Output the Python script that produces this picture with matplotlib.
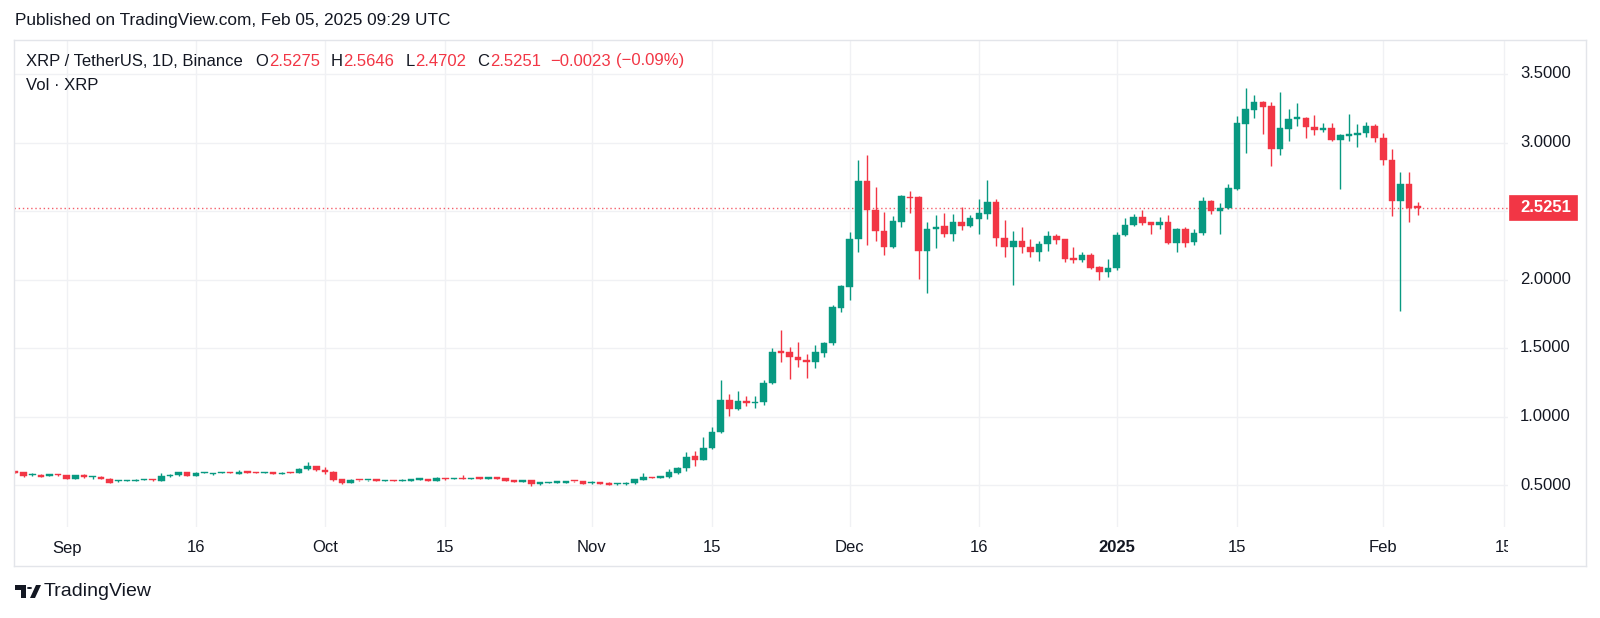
import matplotlib
matplotlib.use("Agg")
import matplotlib.pyplot as plt
import matplotlib.dates as mdates
import numpy as np
import pandas as pd
from matplotlib.patches import Rectangle, Polygon, Circle
from matplotlib.lines import Line2D

# ---------------- data ----------------
start_date = "2024-08-26"
opens = [0.600, 0.592, 0.570, 0.573, 0.568, 0.574,
         0.570, 0.546, 0.573, 0.558, 0.561, 0.546, 0.526, 0.531, 0.531, 0.537, 0.541, 0.532, 0.563, 0.570, 0.595,
         0.566, 0.588, 0.580, 0.588, 0.592, 0.582, 0.597, 0.592, 0.588, 0.590, 0.580, 0.592, 0.590, 0.614, 0.638,
         0.612, 0.598, 0.541, 0.517, 0.536, 0.533, 0.537, 0.530, 0.533, 0.530, 0.531, 0.539, 0.541, 0.531, 0.548,
         0.545, 0.549, 0.545, 0.549, 0.546, 0.549, 0.548, 0.533, 0.524, 0.534, 0.505, 0.516, 0.517, 0.517, 0.529,
         0.527, 0.511, 0.514, 0.517, 0.505, 0.505, 0.512, 0.536, 0.556, 0.552, 0.560, 0.590, 0.622, 0.712, 0.683,
         0.768, 0.884, 1.120, 1.055, 1.116, 1.098, 1.103, 1.242, 1.472, 1.473, 1.432, 1.412, 1.395, 1.466, 1.534,
         1.795, 1.948, 2.293, 2.719, 2.507, 2.357, 2.240, 2.422, 2.605, 2.602, 2.208, 2.367, 2.391, 2.332, 2.420,
         2.393, 2.444, 2.480, 2.568, 2.305, 2.235, 2.281, 2.235, 2.203, 2.257, 2.320, 2.293, 2.155, 2.143, 2.179,
         2.089, 2.055, 2.081, 2.325, 2.398, 2.454, 2.417, 2.398, 2.417, 2.269, 2.369, 2.271, 2.337, 2.573, 2.503,
         2.524, 2.661, 3.135, 3.240, 3.293, 3.266, 2.953, 3.098, 3.174, 3.181, 3.116, 3.094, 3.103, 3.018, 3.050,
         3.052, 3.067, 3.123, 3.030, 2.872, 2.575, 2.697, 2.5275]
highs = [0.605, 0.598, 0.585, 0.578, 0.578, 0.578,
         0.573, 0.573, 0.578, 0.568, 0.563, 0.548, 0.534, 0.538, 0.541, 0.543, 0.543, 0.590, 0.578, 0.597, 0.597,
         0.592, 0.595, 0.588, 0.595, 0.595, 0.609, 0.600, 0.595, 0.595, 0.592, 0.595, 0.595, 0.621, 0.668, 0.641,
         0.628, 0.600, 0.543, 0.541, 0.539, 0.539, 0.546, 0.536, 0.536, 0.546, 0.544, 0.545, 0.543, 0.555, 0.553,
         0.552, 0.570, 0.553, 0.551, 0.552, 0.561, 0.550, 0.536, 0.535, 0.536, 0.521, 0.522, 0.523, 0.531, 0.530,
         0.529, 0.527, 0.516, 0.519, 0.512, 0.519, 0.546, 0.585, 0.558, 0.566, 0.617, 0.635, 0.743, 0.751, 0.853,
         0.926, 1.266, 1.162, 1.189, 1.150, 1.150, 1.266, 1.498, 1.631, 1.510, 1.541, 1.456, 1.522, 1.545, 1.811,
         1.960, 2.349, 2.872, 2.909, 2.678, 2.490, 2.464, 2.617, 2.646, 2.610, 2.422, 2.471, 2.483, 2.478, 2.532,
         2.471, 2.588, 2.726, 2.588, 2.434, 2.357, 2.386, 2.296, 2.281, 2.354, 2.332, 2.296, 2.235, 2.203, 2.191,
         2.096, 2.147, 2.349, 2.447, 2.478, 2.507, 2.420, 2.454, 2.471, 2.374, 2.386, 2.369, 2.604, 2.580, 2.556,
         2.697, 3.193, 3.395, 3.347, 3.300, 3.293, 3.369, 3.245, 3.286, 3.189, 3.201, 3.140, 3.140, 3.060, 3.208,
         3.133, 3.152, 3.135, 3.067, 2.953, 2.782, 2.782, 2.5646]
lows = [0.585, 0.560, 0.565, 0.556, 0.563, 0.566,
        0.542, 0.542, 0.553, 0.541, 0.544, 0.512, 0.524, 0.527, 0.528, 0.534, 0.532, 0.529, 0.560, 0.568, 0.563,
        0.563, 0.585, 0.570, 0.585, 0.585, 0.580, 0.587, 0.585, 0.585, 0.580, 0.578, 0.585, 0.588, 0.612, 0.604,
        0.578, 0.530, 0.510, 0.514, 0.530, 0.531, 0.527, 0.527, 0.526, 0.527, 0.529, 0.536, 0.528, 0.529, 0.536,
        0.541, 0.541, 0.542, 0.543, 0.543, 0.542, 0.528, 0.519, 0.522, 0.490, 0.502, 0.513, 0.514, 0.515, 0.523,
        0.507, 0.508, 0.507, 0.498, 0.503, 0.502, 0.508, 0.533, 0.548, 0.548, 0.553, 0.583, 0.605, 0.641, 0.680,
        0.765, 0.880, 1.004, 1.050, 1.077, 1.060, 1.082, 1.240, 1.400, 1.274, 1.359, 1.284, 1.354, 1.432, 1.520,
        1.765, 1.850, 2.203, 2.252, 2.281, 2.179, 2.228, 2.386, 2.488, 2.001, 1.904, 2.232, 2.313, 2.281, 2.361,
        2.386, 2.332, 2.444, 2.247, 2.162, 1.960, 2.191, 2.162, 2.135, 2.210, 2.259, 2.130, 2.118, 2.130, 2.074,
        1.996, 2.021, 2.070, 2.320, 2.390, 2.398, 2.332, 2.369, 2.259, 2.198, 2.235, 2.252, 2.325, 2.478, 2.332,
        2.514, 2.650, 2.926, 3.176, 3.060, 2.829, 2.909, 3.013, 3.120, 3.035, 3.055, 3.079, 3.011, 2.660, 3.011,
        2.970, 3.043, 3.001, 2.836, 2.466, 1.770, 2.422, 2.4702]
closes = [0.590, 0.568, 0.578, 0.561, 0.573, 0.570,
          0.546, 0.570, 0.556, 0.563, 0.546, 0.517, 0.532, 0.536, 0.539, 0.540, 0.537, 0.563, 0.575, 0.595, 0.566,
          0.590, 0.592, 0.585, 0.593, 0.588, 0.597, 0.590, 0.588, 0.592, 0.583, 0.590, 0.588, 0.619, 0.638, 0.607,
          0.592, 0.534, 0.517, 0.539, 0.533, 0.536, 0.532, 0.533, 0.529, 0.535, 0.541, 0.542, 0.531, 0.551, 0.545,
          0.549, 0.545, 0.549, 0.546, 0.549, 0.546, 0.531, 0.524, 0.533, 0.505, 0.519, 0.520, 0.520, 0.529, 0.526,
          0.510, 0.515, 0.510, 0.503, 0.510, 0.517, 0.544, 0.556, 0.552, 0.563, 0.592, 0.625, 0.702, 0.683, 0.773,
          0.889, 1.120, 1.055, 1.113, 1.096, 1.105, 1.247, 1.473, 1.466, 1.432, 1.410, 1.395, 1.473, 1.539, 1.797,
          1.953, 2.293, 2.719, 2.507, 2.354, 2.240, 2.427, 2.609, 2.597, 2.208, 2.369, 2.386, 2.332, 2.420, 2.393,
          2.449, 2.483, 2.568, 2.305, 2.235, 2.281, 2.235, 2.203, 2.259, 2.320, 2.288, 2.150, 2.145, 2.179, 2.086,
          2.055, 2.081, 2.325, 2.398, 2.454, 2.415, 2.398, 2.417, 2.269, 2.369, 2.269, 2.342, 2.573, 2.503, 2.524,
          2.666, 3.140, 3.245, 3.293, 3.262, 2.953, 3.103, 3.174, 3.177, 3.116, 3.091, 3.101, 3.018, 3.055, 3.052,
          3.072, 3.123, 3.030, 2.872, 2.575, 2.697, 2.524, 2.5251]

price_ticks = [0.5, 1.0, 1.5, 2.0, 2.5, 3.0, 3.5]
time_tick_dates = ["2024-09-01", "2024-09-16", "2024-10-01", "2024-10-15", "2024-11-01", "2024-11-15",
                   "2024-12-01", "2024-12-16", "2025-01-01", "2025-01-15", "2025-02-01", "2025-02-15"]
time_tick_labels = ["Sep", "16", "Oct", "15", "Nov", "15", "Dec", "16", "2025", "15", "Feb", "15"]
last_price = 2.5251
header = "Published on TradingView.com, Feb 05, 2025 09:29 UTC"
symbol_text = "XRP / TetherUS, 1D, Binance"
ohlc_labels = ["O", "H", "L", "C"]
ohlc_values = ["2.5275", "2.5646", "2.4702", "2.5251"]
change_text = ["\u22120.0023", "(\u22120.09%)"]
vol_text = "Vol \u00b7 XRP"

# ---------------- style ----------------
FONT = ["Liberation Sans", "DejaVu Sans"]
plt.rcParams['font.family'] = FONT
GREEN = "#089981"
RED = "#F23645"
TXT = "#131722"
GRID = "#f0f1f4"
BORDER = "#e3e5ea"

W, H = 1600, 618
fig = plt.figure(figsize=(W / 100, H / 100), dpi=100, facecolor="white")


def fx(px):
    return px / W


def fy(py):
    return 1 - py / H


plot_l, plot_r, plot_t, plot_b = 14, 1508, 40, 527
axis_bottom = 566
right_edge = 1586

dates = pd.date_range(start_date, periods=len(opens), freq="D")
xnum = mdates.date2num(dates)
ref_num = mdates.date2num(pd.Timestamp("2024-09-01"))
px_day, ref_px = 8.605, 66.7
xlim = (ref_num + (plot_l - ref_px) / px_day, ref_num + (plot_r - ref_px) / px_day)
px_unit, ref_py = 137.0, 74.0
ylim = (3.5 - (plot_b - ref_py) / px_unit, 3.5 + (ref_py - plot_t) / px_unit)


def y_px(p):
    return ref_py + (3.5 - p) * px_unit


ax = fig.add_axes([fx(plot_l), fy(plot_b), (plot_r - plot_l) / W, (plot_b - plot_t) / H])
ax.set_xlim(*xlim)
ax.set_ylim(*ylim)
ax.set_axis_off()

# grid
for p in price_ticks:
    ax.axhline(p, color=GRID, lw=1.0, zorder=0)
tick_nums = mdates.date2num(pd.to_datetime(time_tick_dates))
for t in tick_nums:
    ax.axvline(t, color=GRID, lw=1.0, zorder=0)

o = np.array(opens)
h = np.array(highs)
l = np.array(lows)
c = np.array(closes)
up = c >= o
colors = np.where(up, GREEN, RED)
bottoms = np.minimum(o, c)
heights = np.maximum(np.abs(c - o), 1.2 / px_unit)

ax.vlines(xnum, l, h, colors=colors, lw=1.0, zorder=2)
ax.bar(xnum, heights, bottom=bottoms, width=0.76, color=colors, edgecolor=colors, lw=0.3, zorder=3)

# last price dotted line
ax.axhline(last_price, color=RED, lw=1.0, linestyle=(0, (1.0, 2.0)), alpha=0.8, zorder=1)

# time axis
tax = fig.add_axes([fx(plot_l), fy(axis_bottom), (plot_r - plot_l) / W, (axis_bottom - plot_b) / H])
tax.set_xlim(*xlim)
tax.set_ylim(0, 1)
tax.set_axis_off()
for t, lab in zip(tick_nums, time_tick_labels):
    tax.text(t, (axis_bottom - 548) / (axis_bottom - plot_b), lab, ha="center", va="center",
             fontsize=12, color=TXT, clip_on=True,
             fontweight="bold" if lab.isdigit() and len(lab) == 4 else "normal")

# price axis labels
last_y = y_px(last_price)
for p in price_ticks:
    yy = y_px(p)
    if abs(yy - last_y) < 20:
        continue
    fig.text(fx(1520), fy(yy), f"{p:.4f}", ha="left", va="center", fontsize=12, color=TXT)

fig.patches.append(Rectangle((fx(1509), fy(last_y + 12.5)), (1577 - 1509) / W, 25 / H,
                             transform=fig.transFigure, facecolor=RED, edgecolor=RED, lw=0.5))
fig.text(fx(1520), fy(last_y), f"{last_price:.4f}", ha="left", va="center", fontsize=12,
         color="white", fontweight="bold")

# frame
frame = [((plot_l, plot_t), (right_edge, plot_t)), ((plot_l, axis_bottom), (right_edge, axis_bottom)),
         ((plot_l, plot_t), (plot_l, axis_bottom)), ((right_edge, plot_t), (right_edge, axis_bottom))]
for (x0, y0), (x1, y1) in frame:
    fig.lines.append(Line2D([fx(x0), fx(x1)], [fy(y0), fy(y1)], transform=fig.transFigure,
                            color=BORDER, lw=1.0))

# header and legend
fig.text(fx(15), fy(21), header, ha="left", va="center", fontsize=12.4, color=TXT)

renderer = fig.canvas.get_renderer()


def chain(x, y, s, color, gap_after, **kw):
    t = fig.text(fx(x), fy(y), s, ha="left", va="center", fontsize=12, color=color, **kw)
    bb = t.get_window_extent(renderer)
    return bb.x1 + gap_after


ly = 61
x = 26
x = chain(x, ly, symbol_text, TXT, 13)
for lab, val in zip(ohlc_labels, ohlc_values):
    x = chain(x, ly, lab, TXT, 0.5)
    x = chain(x, ly, val, RED, 11)
x -= 2
x = chain(x, ly, change_text[0], RED, 6)
x = chain(x, ly, change_text[1], RED, 0)
fig.text(fx(26), fy(86), vol_text, ha="left", va="center", fontsize=12, color=TXT)

# TradingView logo
fig.patches.append(Polygon([[fx(15), fy(585)], [fx(25.5), fy(585)], [fx(25.5), fy(598)], [fx(20.5), fy(598)],
                            [fx(20.5), fy(590)], [fx(15), fy(590)]], closed=True,
                           transform=fig.transFigure, facecolor=TXT, edgecolor=TXT, lw=0))
fig.patches.append(Circle((fx(29.5), fy(588)), 2.6 / W, transform=fig.transFigure, facecolor=TXT, lw=0))
fig.patches.append(Polygon([[fx(30), fy(598)], [fx(35), fy(598)], [fx(41), fy(585)], [fx(36), fy(585)]],
                           closed=True, transform=fig.transFigure, facecolor=TXT, lw=0))
fig.text(fx(44), fy(592), "TradingView", ha="left", va="center", fontsize=14, color=TXT)

fig.savefig("out.png", dpi=100, facecolor="white")
